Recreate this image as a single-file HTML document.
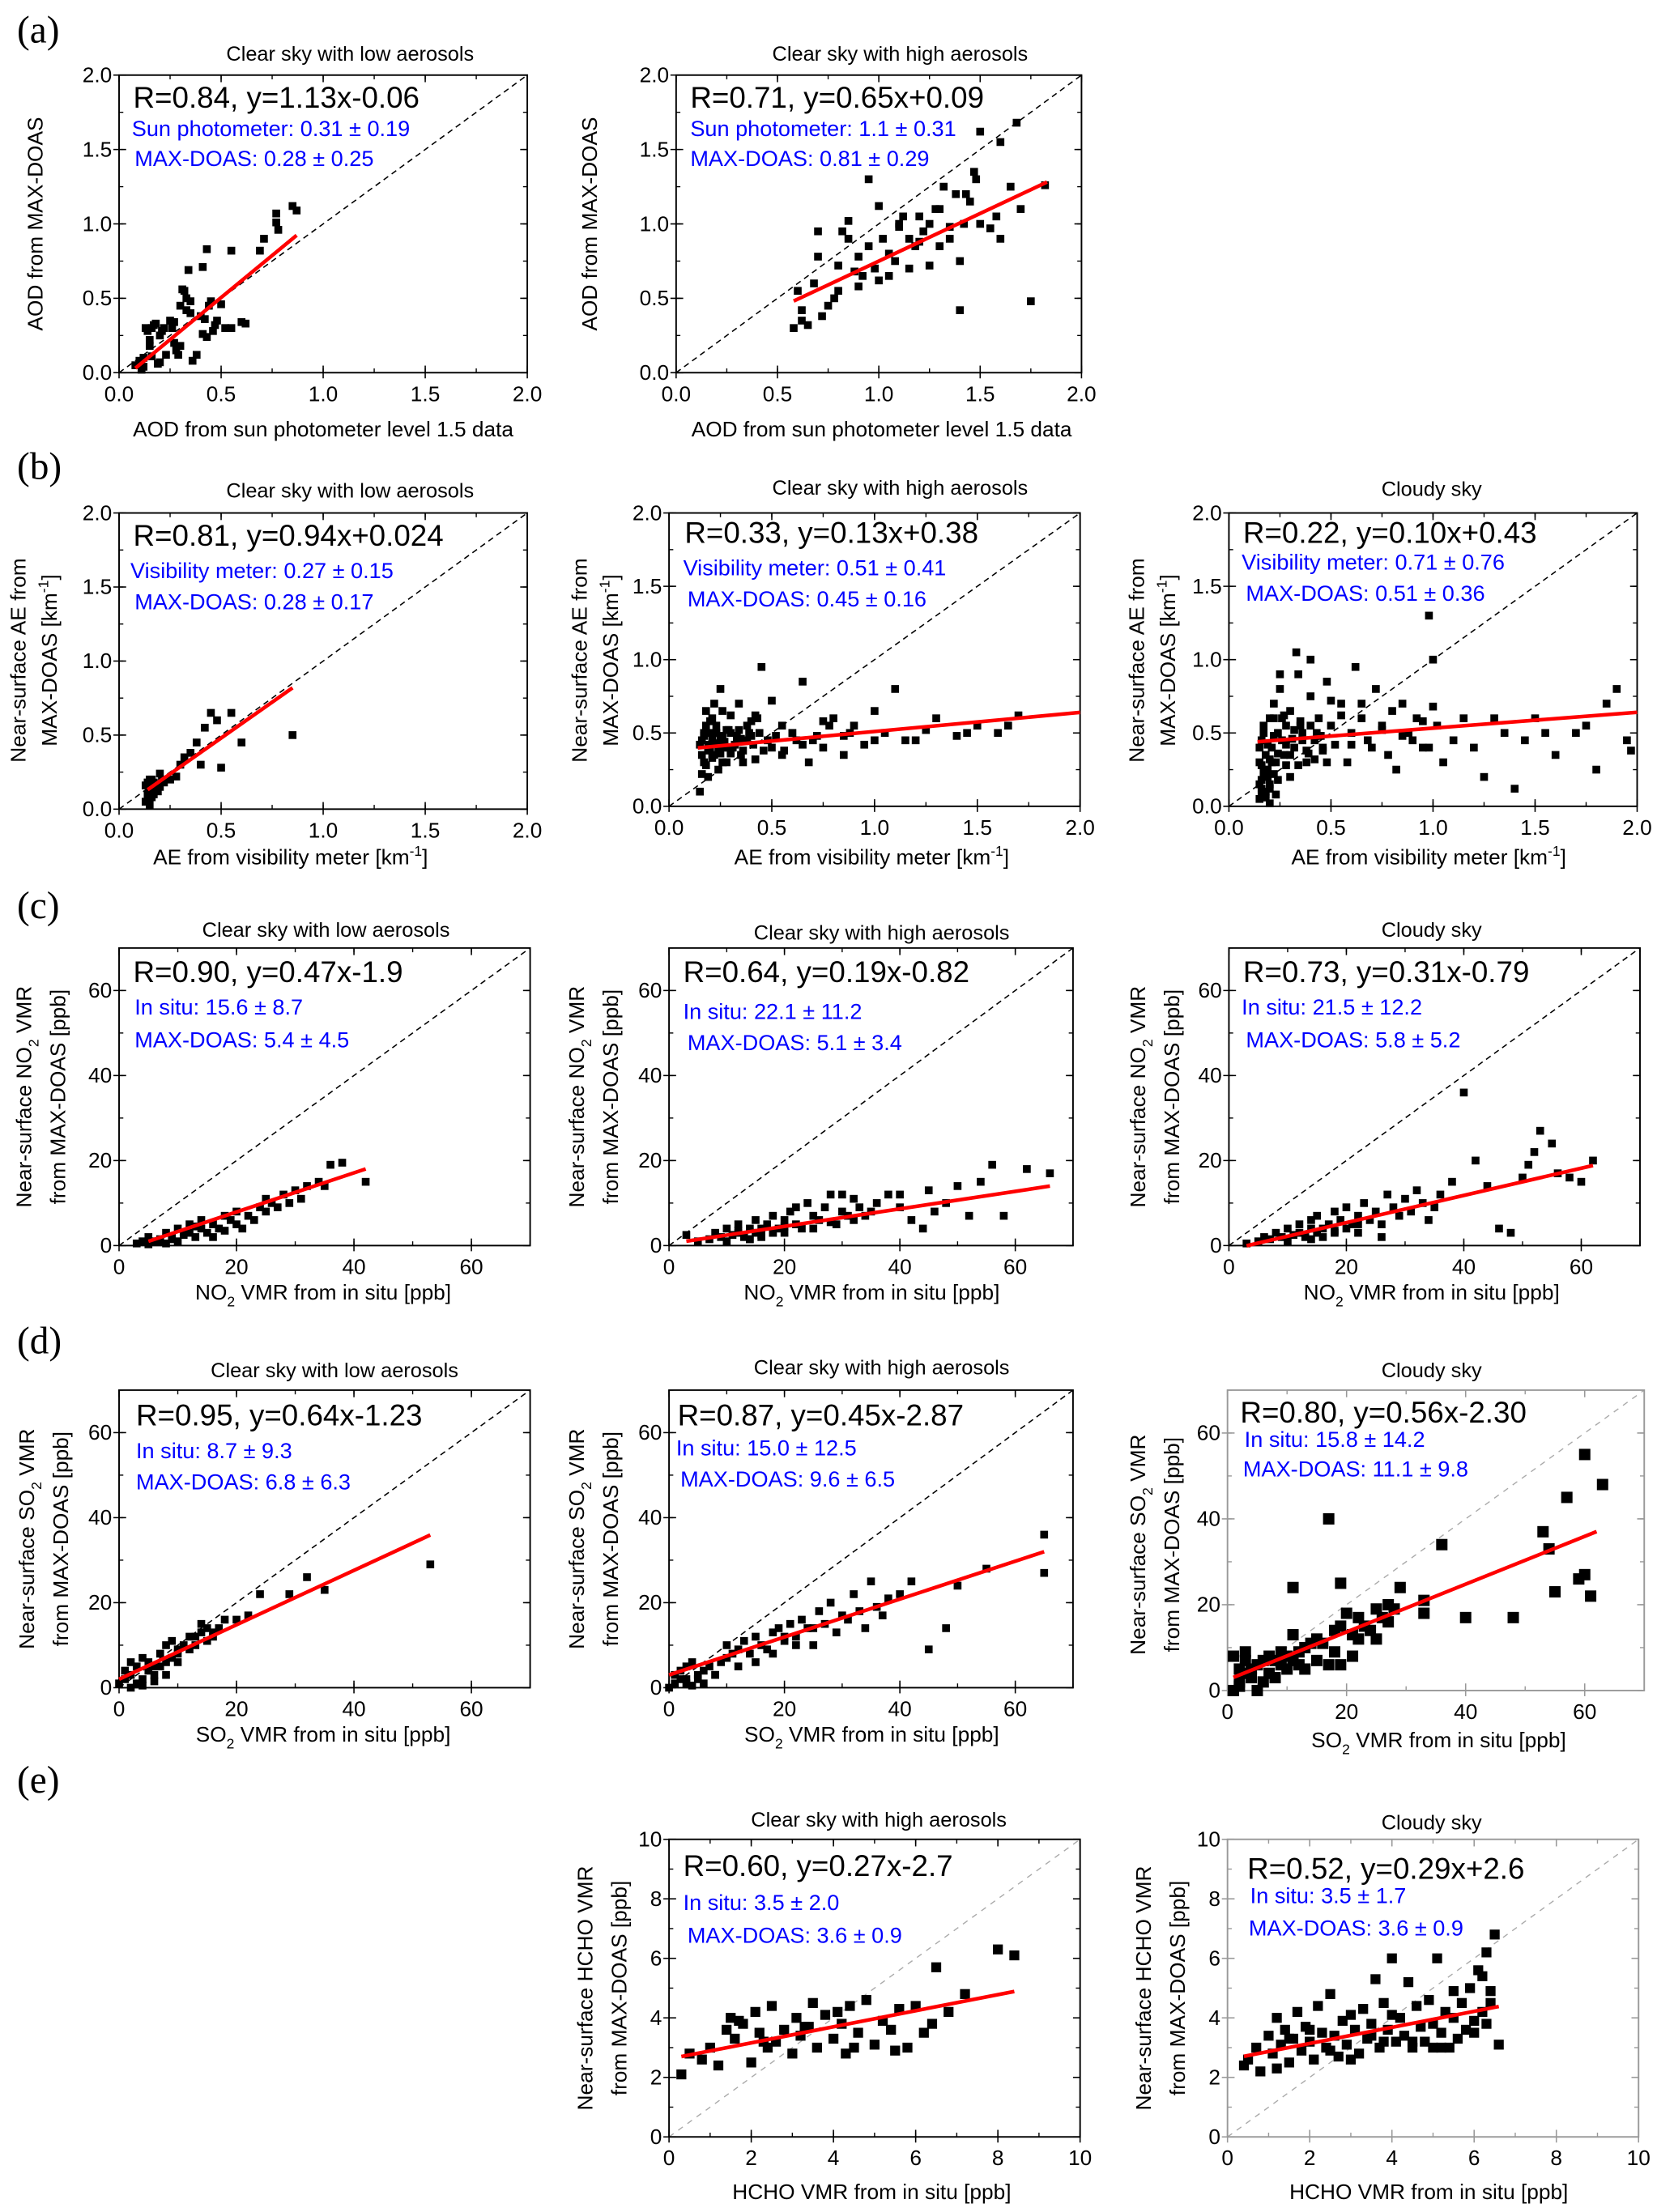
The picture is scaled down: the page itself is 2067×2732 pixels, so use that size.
<!DOCTYPE html>
<html><head><meta charset="utf-8"><title>MAX-DOAS comparison scatter plots</title>
<style>
html,body{margin:0;padding:0;background:#fff;}
svg{display:block;font-family:"Liberation Sans",Arial,sans-serif;}
.t{font-size:14.5px;fill:#000;}
.tk{font-size:15px;fill:#000;}
.al{font-size:15px;fill:#000;}
.r{font-size:21px;fill:#000;}
.bl{font-size:15.5px;fill:#0000ff;}
.pl{font-family:"Liberation Serif",serif;font-size:27px;fill:#000;}
</style></head>
<body>
<svg id="fig" width="2067" height="2732" viewBox="0 0 1181 1561" preserveAspectRatio="none" xmlns="http://www.w3.org/2000/svg">
<rect x="0" y="0" width="1181" height="1561" fill="#fff"/>
<g id="marks"></g>
<text class="pl" x="12" y="30">(a)</text>
<text class="pl" x="12" y="338">(b)</text>
<text class="pl" x="12" y="648">(c)</text>
<text class="pl" x="12" y="955">(d)</text>
<text class="pl" x="12" y="1265">(e)</text>

<!-- a1 -->
<text class="t" x="247" y="43" text-anchor="middle">Clear sky with low aerosols</text>
<text class="r" x="94" y="76">R=0.84, y=1.13x-0.06</text>
<text class="bl" x="93" y="96">Sun photometer: 0.31 ± 0.19</text>
<text class="bl" x="95" y="117">MAX-DOAS: 0.28 ± 0.25</text>
<text class="al" x="228" y="308" text-anchor="middle">AOD from sun photometer level 1.5 data</text>
<text class="al" transform="translate(30,158) rotate(-90)" text-anchor="middle">AOD from MAX-DOAS</text>
<!-- a2 -->
<text class="t" x="635" y="43" text-anchor="middle">Clear sky with high aerosols</text>
<text class="r" x="487" y="76">R=0.71, y=0.65x+0.09</text>
<text class="bl" x="487" y="96">Sun photometer: 1.1 ± 0.31</text>
<text class="bl" x="487" y="117">MAX-DOAS: 0.81 ± 0.29</text>
<text class="al" x="622" y="308" text-anchor="middle">AOD from sun photometer level 1.5 data</text>
<text class="al" transform="translate(421,158) rotate(-90)" text-anchor="middle">AOD from MAX-DOAS</text>

<!-- b1 -->
<text class="t" x="247" y="351" text-anchor="middle">Clear sky with low aerosols</text>
<text class="r" x="94" y="385">R=0.81, y=0.94x+0.024</text>
<text class="bl" x="92" y="408">Visibility meter: 0.27 ± 0.15</text>
<text class="bl" x="95" y="430">MAX-DOAS: 0.28 ± 0.17</text>
<text class="al" x="205" y="610" text-anchor="middle">AE from visibility meter [km<tspan dy="-6" font-size="10">-1</tspan><tspan dy="6">]</tspan></text>
<text class="al" transform="translate(18,466) rotate(-90)" text-anchor="middle">Near-surface AE from</text>
<text class="al" transform="translate(40,466) rotate(-90)" text-anchor="middle">MAX-DOAS [km<tspan dy="-6" font-size="10">-1</tspan><tspan dy="6">]</tspan></text>
<!-- b2 -->
<text class="t" x="635" y="349" text-anchor="middle">Clear sky with high aerosols</text>
<text class="r" x="483" y="383">R=0.33, y=0.13x+0.38</text>
<text class="bl" x="482" y="406">Visibility meter: 0.51 ± 0.41</text>
<text class="bl" x="485" y="428">MAX-DOAS: 0.45 ± 0.16</text>
<text class="al" x="615" y="610" text-anchor="middle">AE from visibility meter [km<tspan dy="-6" font-size="10">-1</tspan><tspan dy="6">]</tspan></text>
<text class="al" transform="translate(414,466) rotate(-90)" text-anchor="middle">Near-surface AE from</text>
<text class="al" transform="translate(436,466) rotate(-90)" text-anchor="middle">MAX-DOAS [km<tspan dy="-6" font-size="10">-1</tspan><tspan dy="6">]</tspan></text>
<!-- b3 -->
<text class="t" x="1010" y="350" text-anchor="middle">Cloudy sky</text>
<text class="r" x="877" y="383">R=0.22, y=0.10x+0.43</text>
<text class="bl" x="876" y="402">Visibility meter: 0.71 ± 0.76</text>
<text class="bl" x="879" y="424">MAX-DOAS: 0.51 ± 0.36</text>
<text class="al" x="1008" y="610" text-anchor="middle">AE from visibility meter [km<tspan dy="-6" font-size="10">-1</tspan><tspan dy="6">]</tspan></text>
<text class="al" transform="translate(807,466) rotate(-90)" text-anchor="middle">Near-surface AE from</text>
<text class="al" transform="translate(829,466) rotate(-90)" text-anchor="middle">MAX-DOAS [km<tspan dy="-6" font-size="10">-1</tspan><tspan dy="6">]</tspan></text>

<!-- c1 -->
<text class="t" x="230" y="661" text-anchor="middle">Clear sky with low aerosols</text>
<text class="r" x="94" y="693">R=0.90, y=0.47x-1.9</text>
<text class="bl" x="95" y="716">In situ: 15.6 ± 8.7</text>
<text class="bl" x="95" y="739">MAX-DOAS: 5.4 ± 4.5</text>
<text class="al" x="228" y="917" text-anchor="middle">NO<tspan dy="5" font-size="10">2</tspan><tspan dy="-5"> VMR from in situ [ppb]</tspan></text>
<text class="al" transform="translate(22,774) rotate(-90)" text-anchor="middle">Near-surface NO<tspan dy="5" font-size="10">2</tspan><tspan dy="-5"> VMR</tspan></text>
<text class="al" transform="translate(46,774) rotate(-90)" text-anchor="middle">from MAX-DOAS [ppb]</text>
<!-- c2 -->
<text class="t" x="622" y="663" text-anchor="middle">Clear sky with high aerosols</text>
<text class="r" x="482" y="693">R=0.64, y=0.19x-0.82</text>
<text class="bl" x="482" y="719">In situ: 22.1 ± 11.2</text>
<text class="bl" x="485" y="741">MAX-DOAS: 5.1 ± 3.4</text>
<text class="al" x="615" y="917" text-anchor="middle">NO<tspan dy="5" font-size="10">2</tspan><tspan dy="-5"> VMR from in situ [ppb]</tspan></text>
<text class="al" transform="translate(412,774) rotate(-90)" text-anchor="middle">Near-surface NO<tspan dy="5" font-size="10">2</tspan><tspan dy="-5"> VMR</tspan></text>
<text class="al" transform="translate(436,774) rotate(-90)" text-anchor="middle">from MAX-DOAS [ppb]</text>
<!-- c3 -->
<text class="t" x="1010" y="661" text-anchor="middle">Cloudy sky</text>
<text class="r" x="877" y="693">R=0.73, y=0.31x-0.79</text>
<text class="bl" x="876" y="716">In situ: 21.5 ± 12.2</text>
<text class="bl" x="879" y="739">MAX-DOAS: 5.8 ± 5.2</text>
<text class="al" x="1010" y="917" text-anchor="middle">NO<tspan dy="5" font-size="10">2</tspan><tspan dy="-5"> VMR from in situ [ppb]</tspan></text>
<text class="al" transform="translate(808,774) rotate(-90)" text-anchor="middle">Near-surface NO<tspan dy="5" font-size="10">2</tspan><tspan dy="-5"> VMR</tspan></text>
<text class="al" transform="translate(832,774) rotate(-90)" text-anchor="middle">from MAX-DOAS [ppb]</text>

<!-- d1 -->
<text class="t" x="236" y="972" text-anchor="middle">Clear sky with low aerosols</text>
<text class="r" x="96" y="1006">R=0.95, y=0.64x-1.23</text>
<text class="bl" x="96" y="1029">In situ: 8.7 ± 9.3</text>
<text class="bl" x="96" y="1051">MAX-DOAS: 6.8 ± 6.3</text>
<text class="al" x="228" y="1229" text-anchor="middle">SO<tspan dy="5" font-size="10">2</tspan><tspan dy="-5"> VMR from in situ [ppb]</tspan></text>
<text class="al" transform="translate(24,1086) rotate(-90)" text-anchor="middle">Near-surface SO<tspan dy="5" font-size="10">2</tspan><tspan dy="-5"> VMR</tspan></text>
<text class="al" transform="translate(48,1086) rotate(-90)" text-anchor="middle">from MAX-DOAS [ppb]</text>
<!-- d2 -->
<text class="t" x="622" y="970" text-anchor="middle">Clear sky with high aerosols</text>
<text class="r" x="478" y="1006">R=0.87, y=0.45x-2.87</text>
<text class="bl" x="477" y="1027">In situ: 15.0 ± 12.5</text>
<text class="bl" x="480" y="1049">MAX-DOAS: 9.6 ± 6.5</text>
<text class="al" x="615" y="1229" text-anchor="middle">SO<tspan dy="5" font-size="10">2</tspan><tspan dy="-5"> VMR from in situ [ppb]</tspan></text>
<text class="al" transform="translate(412,1086) rotate(-90)" text-anchor="middle">Near-surface SO<tspan dy="5" font-size="10">2</tspan><tspan dy="-5"> VMR</tspan></text>
<text class="al" transform="translate(436,1086) rotate(-90)" text-anchor="middle">from MAX-DOAS [ppb]</text>
<!-- d3 -->
<text class="t" x="1010" y="972" text-anchor="middle">Cloudy sky</text>
<text class="r" x="875" y="1004">R=0.80, y=0.56x-2.30</text>
<text class="bl" x="878" y="1021">In situ: 15.8 ± 14.2</text>
<text class="bl" x="877" y="1042">MAX-DOAS: 11.1 ± 9.8</text>
<text class="al" x="1015" y="1233" text-anchor="middle">SO<tspan dy="5" font-size="10">2</tspan><tspan dy="-5"> VMR from in situ [ppb]</tspan></text>
<text class="al" transform="translate(808,1090) rotate(-90)" text-anchor="middle">Near-surface SO<tspan dy="5" font-size="10">2</tspan><tspan dy="-5"> VMR</tspan></text>
<text class="al" transform="translate(832,1090) rotate(-90)" text-anchor="middle">from MAX-DOAS [ppb]</text>

<!-- e1 -->
<text class="t" x="620" y="1289" text-anchor="middle">Clear sky with high aerosols</text>
<text class="r" x="482" y="1324">R=0.60, y=0.27x-2.7</text>
<text class="bl" x="482" y="1348">In situ: 3.5 ± 2.0</text>
<text class="bl" x="485" y="1371">MAX-DOAS: 3.6 ± 0.9</text>
<text class="al" x="615" y="1552" text-anchor="middle">HCHO VMR from in situ [ppb]</text>
<text class="al" transform="translate(418,1403) rotate(-90)" text-anchor="middle">Near-surface HCHO VMR</text>
<text class="al" transform="translate(442,1403) rotate(-90)" text-anchor="middle">from MAX-DOAS [ppb]</text>
<!-- e2 -->
<text class="t" x="1010" y="1291" text-anchor="middle">Cloudy sky</text>
<text class="r" x="880" y="1326">R=0.52, y=0.29x+2.6</text>
<text class="bl" x="882" y="1343">In situ: 3.5 ± 1.7</text>
<text class="bl" x="881" y="1366">MAX-DOAS: 3.6 ± 0.9</text>
<text class="al" x="1008" y="1552" text-anchor="middle">HCHO VMR from in situ [ppb]</text>
<text class="al" transform="translate(812,1403) rotate(-90)" text-anchor="middle">Near-surface HCHO VMR</text>
<text class="al" transform="translate(836,1403) rotate(-90)" text-anchor="middle">from MAX-DOAS [ppb]</text>
</svg>
<script>
// ---- data ----
const a1X=[0.08,0.1,0.12,0.13,0.14,0.15,0.16,0.17,0.18,0.19,0.2,0.21,0.22,0.23,0.25,0.26,0.27,0.28,0.29,0.3,0.31,0.32,0.33,0.33,0.34,0.35,0.36,0.38,0.4,0.41,0.42,0.43,0.44,0.45,0.46,0.47,0.48,0.5,0.52,0.55,0.6,0.62,0.69,0.71,0.43,0.41,0.55,0.77,0.77,0.78,0.85,0.87,0.12,0.15,0.2,0.3,0.35,0.27,0.16,0.11];
const a1Y=[0.05,0.08,0.1,0.3,0.28,0.18,0.3,0.32,0.33,0.06,0.07,0.28,0.3,0.12,0.35,0.3,0.2,0.15,0.12,0.45,0.56,0.55,0.5,0.42,0.69,0.48,0.08,0.12,0.38,0.26,0.36,0.24,0.45,0.48,0.28,0.32,0.35,0.46,0.3,0.3,0.34,0.33,0.82,0.9,0.83,0.71,0.82,1.07,1.01,0.96,1.12,1.09,0.04,0.22,0.25,0.18,0.4,0.34,0.11,0.02];
const a2X=[0.58,0.6,0.62,0.65,0.68,0.7,0.72,0.75,0.78,0.8,0.82,0.85,0.88,0.9,0.92,0.95,0.98,1.0,1.02,1.05,1.08,1.1,1.12,1.15,1.18,1.2,1.22,1.25,1.28,1.3,1.32,1.35,1.38,1.4,1.42,1.45,1.48,1.5,1.55,1.6,1.65,1.7,1.75,1.82,0.7,0.8,0.9,1.0,1.1,1.2,1.3,1.4,1.5,0.95,1.05,1.15,1.25,1.35,0.62,0.85,1.6,1.68,1.58,1.47,1.43];
const a2Y=[0.3,0.55,0.35,0.32,0.6,0.78,0.38,0.45,0.5,0.72,0.95,0.9,0.68,0.58,0.65,0.85,0.7,0.62,0.9,0.8,0.75,0.98,1.05,0.9,0.85,1.05,0.95,0.72,1.1,0.85,1.25,0.9,1.2,0.42,1.0,1.15,1.3,1.62,0.97,0.9,1.25,1.1,0.48,1.26,0.95,0.55,0.78,1.12,1.0,0.88,1.1,0.75,1.0,1.3,0.65,0.7,1.0,0.98,0.42,1.02,1.55,1.68,1.05,1.35,1.2];
const b1X=[0.13,0.14,0.14,0.15,0.15,0.16,0.16,0.17,0.17,0.18,0.13,0.14,0.15,0.16,0.17,0.18,0.19,0.2,0.21,0.22,0.25,0.28,0.3,0.32,0.35,0.38,0.4,0.42,0.45,0.48,0.5,0.55,0.6,0.85,0.15,0.2,0.25];
const b1Y=[0.05,0.1,0.18,0.12,0.2,0.08,0.15,0.1,0.18,0.14,0.16,0.06,0.09,0.2,0.13,0.17,0.12,0.15,0.2,0.18,0.2,0.22,0.3,0.35,0.38,0.45,0.3,0.55,0.65,0.6,0.28,0.65,0.45,0.5,0.03,0.24,0.2];
const b2X=[0.15,0.16,0.17,0.18,0.19,0.2,0.21,0.22,0.23,0.24,0.25,0.26,0.27,0.28,0.3,0.32,0.34,0.36,0.38,0.4,0.42,0.45,0.48,0.5,0.55,0.6,0.65,0.7,0.75,0.8,0.85,0.9,0.95,1.0,1.05,1.1,1.2,1.3,1.4,1.5,1.6,1.7,0.16,0.18,0.2,0.22,0.24,0.26,0.28,0.3,0.33,0.36,0.4,0.44,0.5,0.56,0.62,0.68,0.78,0.88,1.0,1.15,1.25,1.45,1.65,0.17,0.19,0.21,0.23,0.25,0.29,0.35,0.42,0.52,0.6,0.72,0.16,0.2,0.25,0.3,0.15,0.17,0.19,0.21,0.23,0.25,0.27,0.29,0.31,0.33,0.35,0.37,0.39,0.41,0.43,0.46,0.18,0.22,0.26,0.3,0.34,0.38,0.55,0.65,0.75,0.85];
const b2Y=[0.1,0.45,0.3,0.55,0.2,0.4,0.6,0.35,0.5,0.25,0.45,0.65,0.4,0.3,0.5,0.42,0.7,0.38,0.55,0.48,0.32,0.95,0.45,0.4,0.55,0.5,0.85,0.45,0.4,0.6,0.48,0.55,0.42,0.65,0.5,0.8,0.45,0.6,0.48,0.55,0.5,0.62,0.35,0.28,0.58,0.7,0.38,0.3,0.52,0.62,0.45,0.3,0.58,0.5,0.72,0.38,0.45,0.3,0.55,0.5,0.45,0.45,0.52,0.5,0.55,0.48,0.42,0.33,0.5,0.8,0.4,0.46,0.62,0.48,0.5,0.48,0.22,0.5,0.4,0.36,0.42,0.5,0.38,0.47,0.55,0.36,0.44,0.52,0.4,0.48,0.35,0.45,0.5,0.42,0.6,0.38,0.65,0.43,0.48,0.38,0.52,0.45,0.35,0.42,0.58,0.35];
const b3X=[0.15,0.15,0.16,0.16,0.17,0.17,0.18,0.18,0.19,0.2,0.2,0.21,0.22,0.23,0.24,0.25,0.26,0.27,0.28,0.3,0.32,0.34,0.36,0.38,0.4,0.42,0.44,0.46,0.48,0.5,0.52,0.55,0.58,0.6,0.62,0.65,0.68,0.7,0.72,0.75,0.78,0.8,0.82,0.85,0.88,0.9,0.92,0.95,0.98,1.0,1.02,1.05,1.1,1.15,1.2,1.25,1.3,1.35,1.4,1.45,1.5,1.55,1.6,1.7,1.75,1.8,1.85,1.9,1.95,1.97,0.3,0.35,0.45,0.55,0.65,0.75,0.85,0.95,1.0,0.98,0.5,0.6,0.4,0.25,0.2,0.18,0.16,0.22,0.28,0.33,0.15,0.16,0.17,0.18,0.19,0.2,0.21,0.22,0.23,0.24,0.15,0.16,0.17,0.18,0.19,0.2,0.22,0.24,0.26,0.28,0.3,0.32,0.34,0.36,0.38,0.4,0.42,0.44,0.46,0.48,0.27,0.31,0.35,0.39,0.43];
const b3Y=[0.05,0.3,0.12,0.45,0.2,0.55,0.1,0.35,0.25,0.6,0.15,0.4,0.7,0.3,0.5,0.8,0.45,0.35,0.55,0.65,0.4,0.9,0.5,0.3,0.75,0.45,0.6,0.38,0.85,0.55,0.42,0.7,0.3,0.5,0.95,0.6,0.45,0.4,0.8,0.55,0.35,0.65,0.25,0.7,0.5,0.45,0.6,0.4,1.3,1.0,0.55,0.3,0.45,0.6,0.4,0.2,0.6,0.5,0.12,0.45,0.6,0.5,0.35,0.5,0.55,0.25,0.7,0.8,0.45,0.38,0.2,0.55,0.48,0.62,0.7,0.52,0.48,0.58,0.68,0.4,0.72,0.42,1.0,0.9,0.02,0.08,0.18,0.6,0.28,1.05,0.15,0.1,0.25,0.06,0.2,0.12,0.3,0.22,0.08,0.18,0.4,0.28,0.5,0.22,0.42,0.32,0.48,0.36,0.6,0.42,0.35,0.52,0.28,0.45,0.38,0.55,0.32,0.48,0.4,0.3,0.62,0.46,0.58,0.36,0.5];
const c1X=[3,4,5,6,7,8,8,9,10,10,11,12,12,13,14,14,15,16,16,17,18,18,19,20,20,21,22,23,24,25,25,26,27,28,29,30,31,32,34,35,36,38,42,5,7,9,11,13];
const c1Y=[0.5,1,2,1,1.5,0.5,3,2,1,4,2.5,3,5,2,4,6,3,2,5,4,3.5,7,6,5,8,4,7,6,9,8,11,10,9,12,10,13,11,14,15,14,19,19.5,15,0.3,0.8,1.5,3,4.5];
const c2X=[3,5,7,8,9,10,10,11,12,12,13,14,14,15,15,16,16,17,18,18,19,20,20,21,22,22,23,24,25,26,27,28,29,30,30,31,32,33,34,36,38,40,42,44,45,46,48,50,52,54,56,58,62,66,12,14,16,18,20,25,28,32,35,40];
const c2Y=[2.5,1,1.5,3,2,1,4,2.5,3,5,2,4,1.5,3,6,4,2,5,3,7,4,6,3,8,5,9,4,10,7,6,9,12,5,8,12,7,11,9,7,10,12,9,6,4,13,8,10,14,7,15,19,7,18,17,3.5,1.5,2.5,3,4.5,4,5.5,6,8,12];
const c3X=[3,5,6,7,8,9,10,10,11,12,12,13,14,14,15,15,16,16,17,18,18,19,20,20,21,22,22,23,24,25,26,27,28,29,30,31,32,33,34,35,36,38,40,42,44,46,48,50,51,52,53,55,56,58,60,62,14,18,22,26];
const c3Y=[0.5,1,2,1.5,3,2,1,4,2.5,3,5,2,4,6,3,7,4,2,5,8,3,6,4,9,5,7,3,10,6,8,5,12,9,7,11,8,13,10,6,9,12,15,36,20,14,4,3,16,19,22,27,24,17,16,15,20,1.5,3.5,5,2];
const d1X=[0,1,1,2,2,3,3,4,4,5,5,6,6,7,7,8,8,9,9,10,10,11,12,12,13,14,14,15,15,16,17,18,20,22,24,29,32,35,53,2,4,6,8,10,13,16];
const d1Y=[1,2,4,3,6,1,5,2,7,4,6,3,5,5,8,6,10,7,11,8,9,10,9,12,12,13,15,11,14,13,14,16,16,17,22,22,26,23,29,0,0.5,1.5,3,6,10,12];
const d2X=[0,1,1,2,2,3,3,4,4,5,5,6,7,8,9,10,10,11,12,13,14,15,16,17,18,19,20,21,22,23,24,25,26,27,28,29,30,31,32,33,34,35,36,37,38,40,42,45,48,50,55,65,65,3,6,8,12,15,18,20,22,25];
const d2Y=[0,1,3,2,4,1,5,0.5,6,2,3,4,5,3,6,7,10,8,9,11,8,12,10,9,13,14,11,15,12,16,14,10,18,15,20,13,17,16,22,18,14,25,19,17,21,22,25,9,14,24,28,27,36,2,1,3,5,6,8,12,10,14];
const d3X=[1,1,2,2,3,3,4,4,5,5,6,6,7,7,8,8,9,9,10,10,11,11,12,12,13,13,14,15,15,16,17,18,18,19,19,20,21,21,22,22,23,24,25,25,26,27,27,28,29,33,33,36,40,48,53,54,55,57,59,60,61,60,63,11,17,19,3,2];
const d3Y=[0,8,5,2,7,9,3,5,0,6,2,7,4,8,3,7,6,9,5,8,13,7,9,6,10,5,11,7,12,11,6,14,9,6,15,18,8,13,12,17,15,14,19,12,17,20,16,19,24,21,18,34,17,17,37,33,23,45,26,55,22,27,48,24,40,25,4,1];
const e1X=[0.3,0.5,0.8,1.0,1.2,1.4,1.5,1.6,1.8,2.0,2.1,2.2,2.4,2.5,2.6,2.8,3.0,3.1,3.2,3.4,3.5,3.6,3.8,4.0,4.1,4.2,4.4,4.5,4.6,4.8,5.0,5.2,5.4,5.5,5.6,5.8,6.0,6.2,6.4,6.5,6.8,7.2,8.0,8.4,1.7,2.3,3.3,4.3];
const e1Y=[2.1,2.8,2.6,3.0,2.4,3.6,4.0,3.3,3.8,2.5,4.2,3.5,3.0,4.4,3.2,3.6,2.8,4.0,3.4,3.7,4.5,3.0,4.1,3.3,4.2,3.8,4.4,3.0,3.5,4.6,3.1,3.9,3.6,2.9,4.3,3.0,4.4,3.5,3.8,5.7,4.2,4.8,6.3,6.1,3.9,3.2,3.7,2.8];
const e2X=[0.4,0.5,0.7,0.8,1.0,1.1,1.2,1.3,1.4,1.5,1.6,1.7,1.8,1.9,2.0,2.1,2.2,2.3,2.4,2.5,2.6,2.7,2.8,2.9,3.0,3.1,3.2,3.3,3.4,3.5,3.6,3.7,3.8,3.9,4.0,4.1,4.2,4.3,4.4,4.5,4.6,4.7,4.8,4.9,5.0,5.1,5.2,5.3,5.4,5.5,5.6,5.7,5.8,5.9,6.0,6.1,6.2,6.3,6.4,6.5,6.6,1.5,2.5,3.5,4.5,5.5,6.2,6.3,6.4,2.0,3.0,4.0,5.0,6.0,1.2,3.8,5.2];
const e2Y=[2.4,2.6,3.0,2.2,3.4,2.8,4.0,3.1,3.6,2.5,3.3,4.2,2.9,3.7,3.2,2.6,4.4,3.5,3.0,4.8,3.4,2.7,3.9,3.1,4.1,3.6,2.8,4.3,3.3,3.8,5.3,3.0,4.5,3.6,6.0,3.2,4.0,3.4,5.2,3.0,4.4,3.7,3.2,4.6,3.8,6.0,3.5,4.2,3.0,4.9,3.3,4.5,3.6,5.0,3.9,5.6,4.2,6.2,4.5,6.8,3.1,3.3,2.9,3.4,3.2,4.0,5.4,3.8,4.9,3.6,2.6,4.1,3.0,3.5,2.3,3.2,3.0];
const fitRanges={a1:[0.08,0.87],a2:[0.58,1.83],b1:[0.14,0.85],b2:[0.14,2.0],b3:[0.14,2.0],c1:[5,42],c2:[3,66],c3:[3,62],d1:[0,53],d2:[0,65],d3:[1,62],e1:[0.3,8.4],e2:[0.4,6.6]};
const fitSlopes={a1:1.13,a2:0.64,b1:0.97,b2:0.13,b3:0.108,c1:0.46,c2:0.206,c3:0.32,d1:0.64,d2:0.446,d3:0.557,e1:0.27,e2:0.27};
const fitIntercepts={a1:-0.06,a2:0.11,b1:-0.005,b2:0.38,b3:0.425,c1:-1.3,c2:0.4,c3:-1,d1:2,d2:3,d3:2.5,e1:2.62,e2:2.6};
const aodTicks=[0,0.5,1.0,1.5,2.0];
const aodTickLabels=["0.0","0.5","1.0","1.5","2.0"];
const vmrTicks=[0,20,40,60];
const vmrTickLabels=["0","20","40","60"];
const hchoTicks=[0,2,4,6,8,10];
const hchoTickLabels=["0","2","4","6","8","10"];

const NS="http://www.w3.org/2000/svg";
const root=document.getElementById('marks');
function mk(tag,attrs,parent){const e=document.createElementNS(NS,tag);for(const k in attrs)e.setAttribute(k,attrs[k]);(parent||root).appendChild(e);return e;}

function panel(id,L,R,T,B,xMax,yMax,ticks,labels,minor,xs,ys,ms,lightFrame,lightDiag){
  const g=mk('g',{});
  
  
  const sx=v=>L+v/xMax*(R-L), sy=v=>B-v/yMax*(B-T);
  const frameCol=lightFrame?'#999':'#000';
  const dm=Math.min(xMax,yMax);
  const dg=mk('line',{x1:sx(0),y1:sy(0),x2:sx(dm),y2:sy(dm),stroke:lightDiag?'#aaa':'#000','stroke-width':lightDiag?0.8:0.9,'stroke-dasharray':lightDiag?'4,4':'4,3'},g);
  
  
  for(let v=0;v<=xMax+1e-9;v+=minor){
    mk('line',{x1:sx(v),y1:B,x2:sx(v),y2:B-3,stroke:frameCol,'stroke-width':0.8},g);
    mk('line',{x1:sx(v),y1:T,x2:sx(v),y2:T+3,stroke:frameCol,'stroke-width':0.8},g);
  }
  for(let v=0;v<=yMax+1e-9;v+=minor){
    mk('line',{x1:L,y1:sy(v),x2:L+3,y2:sy(v),stroke:frameCol,'stroke-width':0.8},g);
    mk('line',{x1:R,y1:sy(v),x2:R-3,y2:sy(v),stroke:frameCol,'stroke-width':0.8},g);
  }
  ticks.forEach((v,i)=>{
    mk('line',{x1:sx(v),y1:B+4,x2:sx(v),y2:B-5,stroke:frameCol,'stroke-width':0.9},g);
    mk('line',{x1:sx(v),y1:T,x2:sx(v),y2:T+5,stroke:frameCol,'stroke-width':0.9},g);
    mk('line',{x1:L-4,y1:sy(v),x2:L+5,y2:sy(v),stroke:frameCol,'stroke-width':0.9},g);
    mk('line',{x1:R,y1:sy(v),x2:R-5,y2:sy(v),stroke:frameCol,'stroke-width':0.9},g);
    const tx=mk('text',{x:sx(v),y:B+20,'text-anchor':'middle',class:'tk'},g);
    tx.textContent=labels[i];
    
    
    const ty=mk('text',{x:L-5,y:sy(v)+5,'text-anchor':'end',class:'tk'},g);
    ty.textContent=labels[i];
    
    
  });
  const fr=mk('rect',{x:L,y:T,width:R-L,height:B-T,fill:'none',stroke:frameCol,'stroke-width':1.1},g);
  
  
  const n=Math.min(xs.length,ys.length);
  for(let i=0;i<n;i++){
    if(xs[i]>xMax||ys[i]>yMax)continue;
    const p=mk('rect',{x:sx(xs[i])-ms/2,y:sy(ys[i])-ms/2,width:ms,height:ms,fill:'#000'},g);
    
    
  }
  const r=fitRanges[id],m=fitSlopes[id],c=fitIntercepts[id];
  const fl=mk('line',{x1:sx(r[0]),y1:sy(m*r[0]+c),x2:sx(r[1]),y2:sy(m*r[1]+c),stroke:'#ff0000','stroke-width':2.6},g);
  
  
}
panel('a1',84,372,53,263,2,2,aodTicks,aodTickLabels,0.25,a1X,a1Y,5.5,false,false);
panel('a2',477,763,53,263,2,2,aodTicks,aodTickLabels,0.25,a2X,a2Y,5.5,false,false);
panel('b1',84,372,362,571,2,2,aodTicks,aodTickLabels,0.25,b1X,b1Y,5.5,false,false);
panel('b2',472,762,362,569,2,2,aodTicks,aodTickLabels,0.25,b2X,b2Y,5.5,false,false);
panel('b3',867,1155,362,569,2,2,aodTicks,aodTickLabels,0.25,b3X,b3Y,5.5,false,false);
panel('c1',84,374,669,879,70,70,vmrTicks,vmrTickLabels,10,c1X,c1Y,5.5,false,false);
panel('c2',472,757,669,879,70,70,vmrTicks,vmrTickLabels,10,c2X,c2Y,5.5,false,false);
panel('c3',867,1157,669,879,70,70,vmrTicks,vmrTickLabels,10,c3X,c3Y,5.5,false,false);
panel('d1',84,374,981,1191,70,70,vmrTicks,vmrTickLabels,10,d1X,d1Y,5.5,false,false);
panel('d2',472,757,981,1191,70,70,vmrTicks,vmrTickLabels,10,d2X,d2Y,5.5,false,false);
panel('d3',866,1160,981,1193,70,70,vmrTicks,vmrTickLabels,10,d3X,d3Y,8,true,true);
panel('e1',472,762,1298,1508,10,10,hchoTicks,hchoTickLabels,1,e1X,e1Y,7,false,true);
panel('e2',866,1156,1298,1508,10,10,hchoTicks,hchoTickLabels,1,e2X,e2Y,7,true,true);
</script>
</body></html>
